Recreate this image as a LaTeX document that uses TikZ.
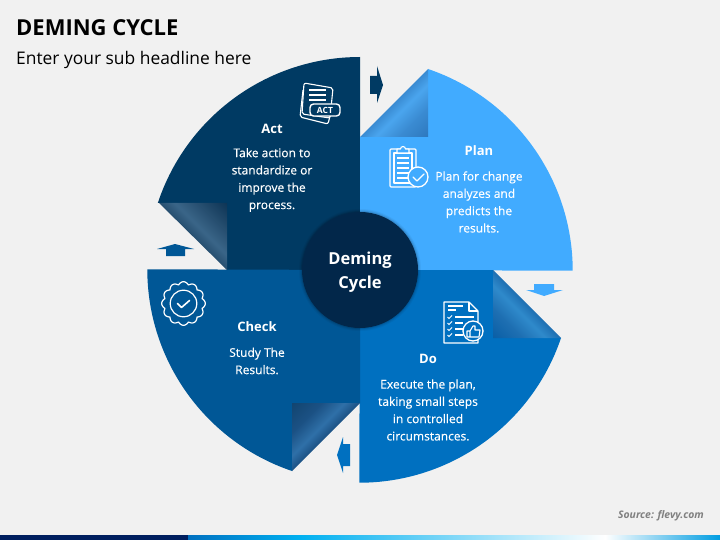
\documentclass[tikz,border=0pt]{standalone}
\usepackage{fontspec}
\setmainfont{Open Sans}
\definecolor{pagegray}{HTML}{F1F1F1}
\definecolor{actblue}{HTML}{003A63}
\definecolor{planblue}{HTML}{41ABFF}
\definecolor{doblue}{HTML}{0070C0}
\definecolor{checkblue}{HTML}{005796}
\definecolor{hubnavy}{HTML}{02274A}
\definecolor{barnavy}{HTML}{001F5F}
\definecolor{barcyan}{HTML}{00B0F0}
% curl: edge colour, light band, inner corner
\newcommand{\curlshading}[4]{\pgfdeclareverticalshading{#1}{100bp}{color(0bp)=(#4);color(15bp)=(#4);color(30bp)=(#2);color(42bp)=(#3);color(50bp)=(#2);color(58bp)=(#3);color(70bp)=(#2);color(85bp)=(#4);color(100bp)=(#4)}}
\definecolor{planA}{HTML}{3A8BD2}\definecolor{planB}{HTML}{4AA5EE}\definecolor{planC}{HTML}{2E78BE}
\definecolor{doA}{HTML}{1E6FB2}\definecolor{doB}{HTML}{2F8ACB}\definecolor{doC}{HTML}{0A5FA6}
\definecolor{actA}{HTML}{274F70}\definecolor{actB}{HTML}{3A6588}\definecolor{actC}{HTML}{0E3556}
\definecolor{checkA}{HTML}{1B5184}\definecolor{checkB}{HTML}{2F70A8}\definecolor{checkC}{HTML}{124570}
\curlshading{plan curl}{planA}{planB}{planC}
\curlshading{do curl}{doA}{doB}{doC}
\curlshading{act curl}{actA}{actB}{actC}
\curlshading{check curl}{checkA}{checkB}{checkC}
\tikzset{
    sheet text/.style={text=white,align=center,font=\fontsize{12}{17.3}\selectfont\addfontfeature{FakeBold=0.3}},
    sheet head/.style={text=white,font=\fontsize{13}{16}\selectfont\bfseries},
    icon line/.style={draw=white,line width=1.1pt,line join=round},
    icon rule/.style={draw=white,line width=1.2pt},
}
\begin{document}
\begin{tikzpicture}[x=1pt,y=-1pt]
    \useasboundingbox (0,0) rectangle (720,540);
    \fill[pagegray] (0,0) rectangle (720,540);
    % bottom bar
    \fill[barnavy] (0,535) rectangle (188,540);
    \shade[left color=doblue,right color=barcyan] (188,535) rectangle (300,540);
    \shade[left color=barcyan,right color=white] (300,535) rectangle (605,540);
    \shade[left color=white,right color=barcyan!70!doblue] (605,535) rectangle (720,540);
    % four sheets
    \fill[actblue] (360,57) arc[start angle=90,end angle=161.6,radius=213pt] -- (227,203) -- (227,270) -- (360,270) -- cycle;
    \fill[planblue] (428,137) -- (428,69) arc[start angle=71.3,end angle=0,radius=213pt] -- (360,270) -- (360,137) -- cycle;
    \fill[doblue] (360,270) -- (493,270) -- (493,338) -- (561,338) arc[start angle=-18.7,end angle=-90,radius=213pt] -- cycle;
    \fill[checkblue] (360,270) -- (360,403) -- (292,403) -- (292,471) arc[start angle=251.3,end angle=180,radius=213pt] -- cycle;
    % curled corners
    \shade[shading=plan curl,shading angle=45] (360,137) -- (428,69) -- (428,137) -- cycle;
    \shade[shading=do curl,shading angle=-45] (493,270) -- (561,338) -- (493,338) -- cycle;
    \shade[shading=act curl,shading angle=-45] (159,203) -- (227,203) -- (227,270) -- cycle;
    \shade[shading=check curl,shading angle=45] (292,403) -- (360,403) -- (292,471) -- cycle;
    % hub
    \foreach \r/\o in {61/.04,60/.06,59/.1}
        \fill[black,opacity=\o] (360,270) circle[radius=\r];
    \fill[hubnavy] (360,270) circle[radius=58];
    \node (hub) at (360,272) [text=white,align=center,font=\fontsize{16.5}{24}\selectfont\bfseries] {Deming\\Cycle};
    % small arrows
    \fill[actblue] (370,76) -- (377,76) -- (377,66) -- (383,85) -- (377,103) -- (377,94) -- (370,94) -- cycle;
    \fill[planblue] (534,284) -- (554,284) -- (554,290) -- (563,290) -- (544,296) -- (526,290) -- (534,290) -- cycle;
    \fill[doblue] (350,444) -- (343,444) -- (343,437) -- (337,455) -- (343,473) -- (343,466) -- (350,466) -- cycle;
    \fill[checkblue] (185,256) -- (166,256) -- (166,249) -- (157,249) -- (175,244) -- (194,249) -- (185,249) -- cycle;
    % act icon
    \draw[icon line,rounded corners=2pt] (303,90) -- (300,117) -- (328,124) -- (330,116);
    \draw[icon line,fill=actblue,rounded corners=2pt] (304,83) -- (333,88) -- (330,118) -- (302,114) -- cycle;
    \foreach \y in {90,95,100}
        \draw[icon rule] (309,\y) -- (326,\y);
    \draw[icon line,line width=1.4pt,fill=actblue,rounded corners=3.5pt] (310,104) rectangle (340,116);
    \node (act tag) at (325,110) [text=white,inner sep=0pt,font=\fontsize{8.5}{9}\selectfont\bfseries] {ACT};
    % plan icon
    \draw[icon line,rounded corners=1pt] (390,149) rectangle (416,187);
    \draw[icon line] (394,153) rectangle (412,183);
    \draw[icon line,fill=planblue] (397,153) -- (397,149) -- (400.5,149) arc[start angle=180,end angle=0,radius=2.5pt] -- (409,149) -- (409,153) -- cycle;
    \foreach \y in {158,163,168,173,178}
        \draw[icon rule] (397,\y) -- (409,\y);
    \draw[icon line,line width=1.3pt,fill=planblue] (418,177) circle[radius=10];
    \draw[icon line,line width=1.4pt,line cap=round] (413,177) -- (417,181) -- (424,174);
    % do icon
    \draw[icon line] (469,302) -- (444,302) -- (444,343) -- (478,343) -- (478,311) -- cycle;
    \draw[icon line] (469,302) -- (469,311) -- (478,311);
    \draw[icon rule] (448,306) -- (463,306) (448,310) -- (456,310);
    \foreach \y in {317,323,329,335}{
        \draw[white,line width=1pt] (447.5,\y) -- (449,\y+1.5) -- (452,\y-1.5);
        \draw[icon rule] (455,\y) -- (463,\y);}
    \draw[icon rule] (455,317) -- (474,317);
    \draw[icon line,line width=1.3pt,fill=doblue] (473,331) circle[radius=10];
    \draw[icon line,line width=1.1pt] (467,331) rectangle (470,337)
        (470,331) -- (473,326) -- (475,326) -- (475,330) -- (480,330) -- (479,337) -- (470,337);
    % check icon
    \draw[white,line width=1.2pt,line join=round] plot[domain=0:360,samples=121] ({183.5+(19.2+abs(cos(6*\x))*2.6)*cos(\x)},{303.5+(19.2+abs(cos(6*\x))*2.6)*sin(\x)}) -- cycle;
    \draw[white,line width=1.2pt] (183.5,303.5) circle[radius=13.3];
    \draw[white,line width=1.6pt,line cap=round,line join=round] (177.5,303.5) -- (181.5,307.5) -- (189.5,300.5);
    % text
    \node (title) at (16,28) [anchor=west,inner sep=0pt,font=\fontsize{22}{26}\selectfont\bfseries,text=black] {DEMING CYCLE};
    \node (subtitle) at (16,60) [anchor=west,inner sep=0pt,font=\fontsize{17.4}{20}\selectfont,text=black] {Enter your sub headline here};
    \node (source) at (704,516) [anchor=east,inner sep=0pt,font=\fontsize{10.4}{12}\selectfont\bfseries\itshape,text=black!50] {Source: flevy.com};
    \node (act head) at (272,129) [sheet head] {Act};
    \node (act text) at (272,180) [sheet text] {Take action to\\standardize or\\improve the\\process.};
    \node (plan head) at (479,151) [sheet head] {Plan};
    \node (plan text) at (479,202) [sheet text] {Plan for change\\analyzes and\\predicts the\\results.};
    \node (do head) at (428,359) [sheet head] {Do};
    \node (do text) at (428,410) [sheet text] {Execute the plan,\\taking small steps\\in controlled\\circumstances.};
    \node (check head) at (257,327) [sheet head] {Check};
    \node (check text) at (257,361) [sheet text] {Study The\\Results.};
\end{tikzpicture}
\end{document}
